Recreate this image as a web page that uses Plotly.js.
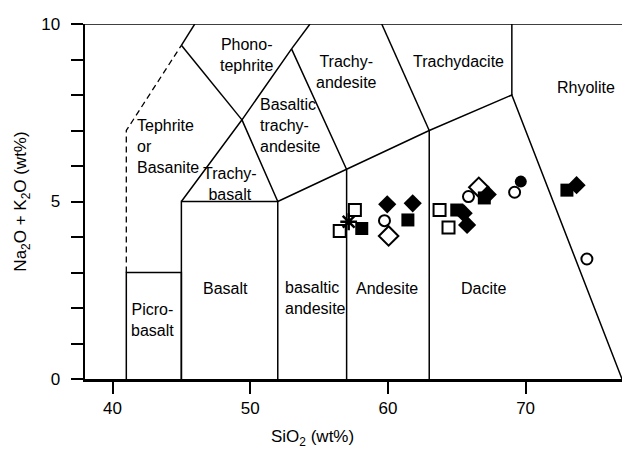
<!DOCTYPE html>
<html>
<head>
<meta charset="utf-8">
<script src="https://cdn.plot.ly/plotly-3.0.1.min.js"></script>
<style>html,body{margin:0;padding:0;background:#fff;}#chart{width:622px;height:450px;}</style>
</head>
<body>
<div id="chart"></div>
<script>
// TAS field boundaries (SiO2, Na2O+K2O), segments separated by null
const boundaryX = [41,41,45,45,null, 45,45,52,52,null, 52,57,63,69,77,null, 57,57,null, 63,63,null,
  45,49.4,52,null, 49.4,53,57,null, 53,54.34,null, 45,49.4,null, 45,45.97,null, 63,59.55,null, 69,69,null, 38,77];
const boundaryY = [0,3,3,0,null, 0,5,5,0,null, 5,5.9,7,8,0,null, 0,5.9,null, 0,7,null,
  5,7.3,5,null, 7.3,9.3,5.9,null, 9.3,10,null, 9.4,7.3,null, 9.4,10,null, 7,10,null, 8,10,null, 10,10];
const dashedX = [41,41,45];
const dashedY = [3,7,9.4];

// Samples
const openSquareX = [56.5, 57.6, 63.75, 64.4];
const openSquareY = [4.17, 4.76, 4.76, 4.27];
const filledSquareX = [58.1, 61.45, 65.0, 67.0, 73.0];
const filledSquareY = [4.24, 4.48, 4.76, 5.1, 5.32];
const filledDiamondX = [59.95, 61.8, 65.5, 65.75, 67.25, 73.7];
const filledDiamondY = [4.92, 4.95, 4.67, 4.34, 5.2, 5.46];
const openDiamondX = [60.05, 66.6];
const openDiamondY = [4.03, 5.4];
const openCircleX = [59.75, 65.85, 69.2, 74.45];
const openCircleY = [4.46, 5.14, 5.26, 3.38];
const filledCircleX = [69.65];
const filledCircleY = [5.56];
const asteriskX = [57.15];
const asteriskY = [4.43];

// Axis ticks
const yTickVals = [0,5,10];
const yTickText = ['0','5','10'];
const yMinorStep = 1;
const xTickVals = [40,50,60,70];
const xTickText = ['40','50','60','70'];

// Field labels
const fieldNames = ['Phono-<br>tephrite','Trachy-<br>andesite','Trachydacite','Rhyolite',
  'Basaltic<br>trachy-<br>andesite','Tephrite<br>or<br>Basanite','Trachy-<br>basalt','Basalt',
  'basaltic<br>andesite','Andesite','Dacite','Picro-<br>basalt'];
const labelPos = [[49.73,9.13,'center'],[56.98,8.65,'center'],[65.13,8.93,'center'],[74.36,8.2,'center'],
  [50.58,7.15,'left'],[41.64,6.54,'left'],[48.55,5.49,'center'],[48.18,2.56,'center'],
  [52.4,2.28,'left'],[59.96,2.54,'center'],[66.95,2.54,'center'],[42.9,1.66,'center']];

const FONT = 'Liberation Sans, Arial, sans-serif';
const mk = (x,y,symbol,size,lw) => ({
  x, y, type:'scatter', mode:'markers', showlegend:false, hoverinfo:'skip', cliponaxis:false,
  marker:{symbol, size, color:'#000', line:{color:'#000', width: lw}}
});

const traces = [
  {x:boundaryX, y:boundaryY, type:'scatter', mode:'lines', line:{color:'#000', width:1.5}, showlegend:false, hoverinfo:'skip', cliponaxis:false},
  {x:dashedX, y:dashedY, type:'scatter', mode:'lines', line:{color:'#000', width:1.3, dash:'6px,4px'}, showlegend:false, hoverinfo:'skip'},
  mk(openSquareX, openSquareY, 'square-open', 12, 2),
  mk(filledSquareX, filledSquareY, 'square', 13, 0),
  mk(filledDiamondX, filledDiamondY, 'diamond', 14, 0),
  mk(openDiamondX, openDiamondY, 'diamond-open', 15, 2),
  mk(openCircleX, openCircleY, 'circle-open', 11, 2),
  mk(filledCircleX, filledCircleY, 'circle', 12, 0),
  mk(asteriskX, asteriskY, 'asterisk-open', 14, 2.5)
];

const annotations = fieldNames.map((t,i) => ({
  x: labelPos[i][0], y: labelPos[i][1], xref:'x', yref:'y', text:t, showarrow:false,
  xanchor: labelPos[i][2], yanchor:'middle', align: labelPos[i][2],
  font:{family:FONT, size:16, color:'#000'}
}));
annotations.push({x:54.5, y:-0.165, xref:'x', yref:'paper', text:'SiO<sub>2</sub> (wt%)', showarrow:false,
  xanchor:'center', yanchor:'middle', font:{family:FONT, size:17, color:'#000'}});

const layout = {
  width:622, height:450,
  margin:{l:85, r:0, t:24, b:71},
  paper_bgcolor:'#fff', plot_bgcolor:'#fff',
  font:{family:FONT, color:'#000'},
  xaxis:{range:[38,77], showgrid:false, zeroline:false, showline:true, linecolor:'#000', linewidth:2.5,
    ticks:'outside', ticklen:12, tickwidth:2, tickcolor:'#000', tickvals:xTickVals, ticktext:xTickText,
    tickfont:{family:FONT, size:17}},
  yaxis:{range:[0,10], showgrid:false, zeroline:false, showline:true, linecolor:'#000', linewidth:2.5,
    ticks:'outside', ticklen:12, tickwidth:2, tickcolor:'#000', tickvals:yTickVals, ticktext:yTickText,
    minor:{dtick:yMinorStep, ticks:'outside', ticklen:12, tickwidth:2, tickcolor:'#000', showgrid:false},
    ticklabelstandoff:7,
    tickfont:{family:FONT, size:17}, title:{text:'Na<sub>2</sub>O + K<sub>2</sub>O (wt%)', font:{family:FONT, size:17}, standoff:10}},
  annotations
};
Plotly.newPlot('chart', traces, layout, {staticPlot:true, displayModeBar:false});
</script>
</body>
</html>
